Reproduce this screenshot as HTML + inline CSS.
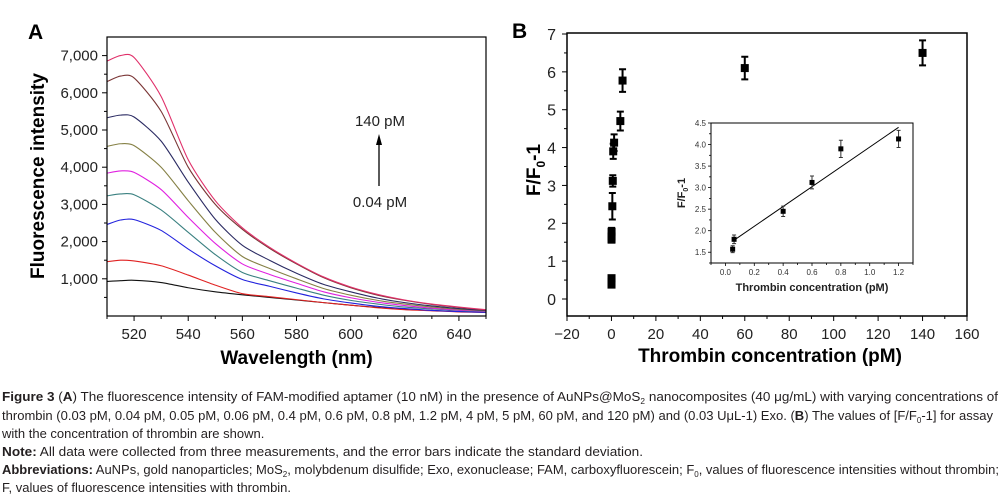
<!DOCTYPE html>
<html><head><meta charset="utf-8"><style>
html,body{margin:0;padding:0;background:#fff;}
svg{display:block;font-family:"Liberation Sans",sans-serif;}
</style></head><body>
<svg id="fig" width="1005" height="497" viewBox="0 0 1005 497">
<g id="panelA"></g>
<g id="panelB"></g>
<g id="caption" font-size="13" fill="#231f20">
<text x="2" y="401" textLength="996" lengthAdjust="spacingAndGlyphs"><tspan font-weight="bold">Figure 3</tspan> (<tspan font-weight="bold">A</tspan>) The fluorescence intensity of FAM-modified aptamer (10 nM) in the presence of AuNPs@MoS<tspan font-size="8" dy="3">2</tspan><tspan dy="-3"> nanocomposites (40 μg/mL) with varying concentrations of</tspan></text>
<text x="2" y="420" textLength="991" lengthAdjust="spacingAndGlyphs">thrombin (0.03 pM, 0.04 pM, 0.05 pM, 0.06 pM, 0.4 pM, 0.6 pM, 0.8 pM, 1.2 pM, 4 pM, 5 pM, 60 pM, and 120 pM) and (0.03 UμL-1) Exo. (<tspan font-weight="bold">B</tspan>) The values of [F/F<tspan font-size="8" dy="3">0</tspan><tspan dy="-3">-1] for assay</tspan></text>
<text x="2" y="438">with the concentration of thrombin are shown.</text>
<text x="2" y="456" textLength="641" lengthAdjust="spacingAndGlyphs"><tspan font-weight="bold">Note:</tspan> All data were collected from three measurements, and the error bars indicate the standard deviation.</text>
<text x="2" y="474" textLength="997" lengthAdjust="spacingAndGlyphs"><tspan font-weight="bold">Abbreviations:</tspan> AuNPs, gold nanoparticles; MoS<tspan font-size="8" dy="3">2</tspan><tspan dy="-3">, molybdenum disulfide; Exo, exonuclease; FAM, carboxyfluorescein; F</tspan><tspan font-size="8" dy="3">0</tspan><tspan dy="-3">, values of fluorescence intensities without thrombin;</tspan></text>
<text x="2" y="492">F, values of fluorescence intensities with thrombin.</text>
</g>
</svg>
<script>
// ---- Panel A data ----
const wavelengths = [510,515,520,530,540,550,560,570,580,590,600,610,620,630,640,650];
const spec140 = [6850,7000,6950,5900,4200,3100,2370,1850,1420,1050,780,580,430,320,240,170];
const spec60  = [6300,6450,6400,5500,4000,3000,2330,1820,1400,1030,760,560,420,310,230,160];
const spec5   = [5330,5400,5350,4700,3600,2600,1900,1500,1150,850,650,480,360,270,200,150];
const spec4   = [4560,4630,4580,4000,3100,2250,1600,1280,1000,740,560,420,320,240,180,140];
const spec12  = [3840,3900,3860,3400,2650,1950,1400,1120,880,650,490,370,280,210,160,130];
const spec08  = [3230,3280,3260,2850,2250,1650,1170,950,750,560,420,320,240,190,150,120];
const spec06  = [2460,2580,2590,2300,1800,1350,980,800,620,460,350,260,200,150,120,100];
const spec04  = [1460,1500,1480,1350,1100,830,600,520,440,360,290,220,170,140,110,100];
const spec004 = [930,950,960,900,760,650,570,500,430,360,290,230,180,150,120,100];
const specColors = ['#e0306a','#7a3535','#2a2a62','#858045','#e020e0','#3a8080','#2222dd','#e02222','#111111'];
const xTicksA = [520,540,560,580,600,620,640];
const yTicksA = [1000,2000,3000,4000,5000,6000,7000];
const yTickLabelsA = ['1,000','2,000','3,000','4,000','5,000','6,000','7,000'];

// ---- Panel B data ----
const conc = [0.03,0.03,0.04,0.04,0.05,0.06,0.4,0.6,0.8,1.2,4,5,60,140];
const ratio = [0.38,0.45,0.55,1.57,1.65,1.78,2.45,3.12,3.9,4.13,4.7,5.77,6.1,6.5];
const ratioErr = [0.05,0.05,0.05,0.08,0.08,0.1,0.35,0.15,0.2,0.22,0.25,0.3,0.3,0.33];
const xTicksB = [-20,0,20,40,60,80,100,120,140,160];
const yTicksB = [0,1,2,3,4,5,6,7];
const insetConc = [0.05,0.06,0.4,0.6,0.8,1.2];
const insetRatio = [1.57,1.8,2.45,3.12,3.9,4.13];
const insetErr = [0.08,0.1,0.12,0.15,0.2,0.2];
const fitLine = [[0.06,1.78],[1.2,4.4]];
const insetXTicks = [0.0,0.2,0.4,0.6,0.8,1.0,1.2];
const insetYTicks = [1.5,2.0,2.5,3.0,3.5,4.0,4.5];

const NS='http://www.w3.org/2000/svg';
function mk(parent,tag,attrs,text){const e=document.createElementNS(NS,tag);for(const k in attrs)e.setAttribute(k,attrs[k]);if(text!==undefined)e.textContent=text;parent.appendChild(e);return e;}
function lin(d0,d1,r0,r1){return v=>r0+(v-d0)*(r1-r0)/(d1-d0);}
function smooth(pts){let d='M'+pts[0][0]+','+pts[0][1];const k=8;for(let i=0;i<pts.length-1;i++){const p0=pts[Math.max(0,i-1)],p1=pts[i],p2=pts[i+1],p3=pts[Math.min(pts.length-1,i+2)];const c1=[p1[0]+(p2[0]-p0[0])/k,p1[1]+(p2[1]-p0[1])/k],c2=[p2[0]-(p3[0]-p1[0])/k,p2[1]-(p3[1]-p1[1])/k];d+=' C'+c1[0].toFixed(2)+','+c1[1].toFixed(2)+' '+c2[0].toFixed(2)+','+c2[1].toFixed(2)+' '+p2[0].toFixed(2)+','+p2[1].toFixed(2);}return d;}

// ===== Panel A =====
(function(){
const g=document.getElementById('panelA');
const L=107,R=486,T=37,B=316;
const x=lin(510,650,L,R), y=lin(0,7500,B,T);
let e=mk(g,'text',{x:28,y:39,'font-size':21,'font-weight':'bold'},'A');


const series=[spec140,spec60,spec5,spec4,spec12,spec08,spec06,spec04,spec004];
for(let s=series.length-1;s>=0;s--){
 const p=mk(g,'path',{d:smooth(wavelengths.map((w,i)=>[x(w),y(series[s][i])])),fill:'none',stroke:specColors[s],'stroke-width':1.1});
 
 
}
e=mk(g,'rect',{x:L,y:T,width:R-L,height:B-T,fill:'none',stroke:'#000','stroke-width':1.2});


for(let v=510;v<=650;v+=10){const major=xTicksA.includes(v);mk(g,'line',{x1:x(v),x2:x(v),y1:B,y2:B+(major?5:3),stroke:'#000'});}
xTicksA.forEach(v=>{const t=mk(g,'text',{x:x(v),y:B+23,'font-size':15,'text-anchor':'middle',fill:'#222'},v);
 
 });
for(let v=500;v<=7000;v+=500){const major=v%1000===0;mk(g,'line',{x1:L,x2:L-(major?5:3),y1:y(v),y2:y(v),stroke:'#000'});}
yTicksA.forEach((v,i)=>{const t=mk(g,'text',{x:L-9,y:y(v)+5,'font-size':15,'text-anchor':'end',fill:'#222'},yTickLabelsA[i]);
 
 });
e=mk(g,'text',{x:(L+R)/2,y:B+48,'font-size':19,'font-weight':'bold','text-anchor':'middle'},'Wavelength (nm)');


e=mk(g,'text',{x:0,y:0,'font-size':19,'font-weight':'bold','text-anchor':'middle',transform:'translate(44,176) rotate(-90)'},'Fluorescence intensity');


e=mk(g,'text',{x:380,y:126,'font-size':15,'text-anchor':'middle',fill:'#222'},'140 pM');


e=mk(g,'text',{x:380,y:207,'font-size':15,'text-anchor':'middle',fill:'#222'},'0.04 pM');


mk(g,'line',{x1:379,x2:379,y1:186,y2:143,stroke:'#000','stroke-width':1.3});
e=mk(g,'polygon',{points:'379,134 376,145 382,145',fill:'#000'});


})();

// ===== Panel B =====
(function(){
const g=document.getElementById('panelB');
const L=567,R=967,T=33,B=316;
const x=lin(-20,160,L,R), y=lin(0,7,299,34);
let e=mk(g,'text',{x:512,y:38,'font-size':21,'font-weight':'bold'},'B');


e=mk(g,'rect',{x:L,y:T,width:R-L,height:B-T,fill:'none',stroke:'#000','stroke-width':1.5});


for(let v=-20;v<=160;v+=10){const major=v%20===0;mk(g,'line',{x1:x(v),x2:x(v),y1:B,y2:B+(major?5:3),stroke:'#000'});}
xTicksB.forEach(v=>{const t=mk(g,'text',{x:x(v),y:B+23,'font-size':15,'text-anchor':'middle',fill:'#222'},v<0?'\u2212'+(-v):v);
 
 });
for(let v=0;v<=7;v+=0.5){const major=Number.isInteger(v);mk(g,'line',{x1:L,x2:L-(major?5:3),y1:y(v),y2:y(v),stroke:'#000'});}
yTicksB.forEach(v=>{const t=mk(g,'text',{x:L-11,y:y(v)+6,'font-size':16,'text-anchor':'end',fill:'#222'},v);
 
 });
e=mk(g,'text',{x:770,y:362,'font-size':19,'font-weight':'bold','text-anchor':'middle'},'Thrombin concentration (pM)');


e=mk(g,'text',{x:0,y:0,'font-size':19,'font-weight':'bold','text-anchor':'middle',transform:'translate(540,170) rotate(-90)'});


e.innerHTML='F/F<tspan font-size="12" dy="5">0</tspan><tspan dy="-5">-1</tspan>';
conc.forEach((c,i)=>{
 const cx=x(c),cy=y(ratio[i]),e1=y(ratio[i]+ratioErr[i]),e2=y(ratio[i]-ratioErr[i]);
 const eb=mk(g,'path',{d:`M${cx},${e1}V${e2}M${cx-3.5},${e1}H${cx+3.5}M${cx-3.5},${e2}H${cx+3.5}`,stroke:'#000','stroke-width':2,fill:'none'});
 
 
 const m=mk(g,'rect',{x:cx-4,y:cy-4,width:8,height:8,fill:'#000'});
 
 
});
// inset
const iL=711,iR=913,iT=123,iB=263;
const ix=lin(-0.1,1.3,iL,iR), iy=lin(1.25,4.5,iB,iT);
e=mk(g,'rect',{x:iL,y:iT,width:iR-iL,height:iB-iT,fill:'#fff',stroke:'#000','stroke-width':1});


for(let v=-0.1;v<=1.301;v+=0.1){const major=Math.round(v*10)%2===0;mk(g,'line',{x1:ix(v),x2:ix(v),y1:iB,y2:iB+(major?3:2),stroke:'#000','stroke-width':0.8});}
insetXTicks.forEach(v=>{const t=mk(g,'text',{x:ix(v),y:iB+12,'font-size':8,'text-anchor':'middle',fill:'#333'},v.toFixed(1));
 
 });
for(let v=1.25;v<=4.5;v+=0.25){const major=Math.round(v*100)%50===0;mk(g,'line',{x1:iL,x2:iL-(major?3:2),y1:iy(v),y2:iy(v),stroke:'#000','stroke-width':0.8});}
insetYTicks.forEach(v=>{const t=mk(g,'text',{x:iL-5,y:iy(v)+3,'font-size':8,'text-anchor':'end',fill:'#333'},v.toFixed(1));
 
 });
e=mk(g,'text',{x:812,y:291,'font-size':11,'font-weight':'bold','text-anchor':'middle',fill:'#222'},'Thrombin concentration (pM)');


e=mk(g,'text',{x:0,y:0,'font-size':11,'font-weight':'bold','text-anchor':'middle',fill:'#222',transform:'translate(685,193) rotate(-90)'});


e.innerHTML='F/F<tspan font-size="7" dy="3">0</tspan><tspan dy="-3">-1</tspan>';
e=mk(g,'line',{x1:ix(fitLine[0][0]),y1:iy(fitLine[0][1]),x2:ix(fitLine[1][0]),y2:iy(fitLine[1][1]),stroke:'#000','stroke-width':1});


insetConc.forEach((c,i)=>{
 const cx=ix(c),cy=iy(insetRatio[i]),e1=iy(insetRatio[i]+insetErr[i]),e2=iy(insetRatio[i]-insetErr[i]);
 const eb=mk(g,'path',{d:`M${cx},${e1}V${e2}M${cx-2},${e1}H${cx+2}M${cx-2},${e2}H${cx+2}`,stroke:'#333','stroke-width':1,fill:'none'});
 
 
 const m=mk(g,'rect',{x:cx-2.5,y:cy-2.5,width:5,height:5,fill:'#000'});
 
 
});
})();
</script>
</body></html>
